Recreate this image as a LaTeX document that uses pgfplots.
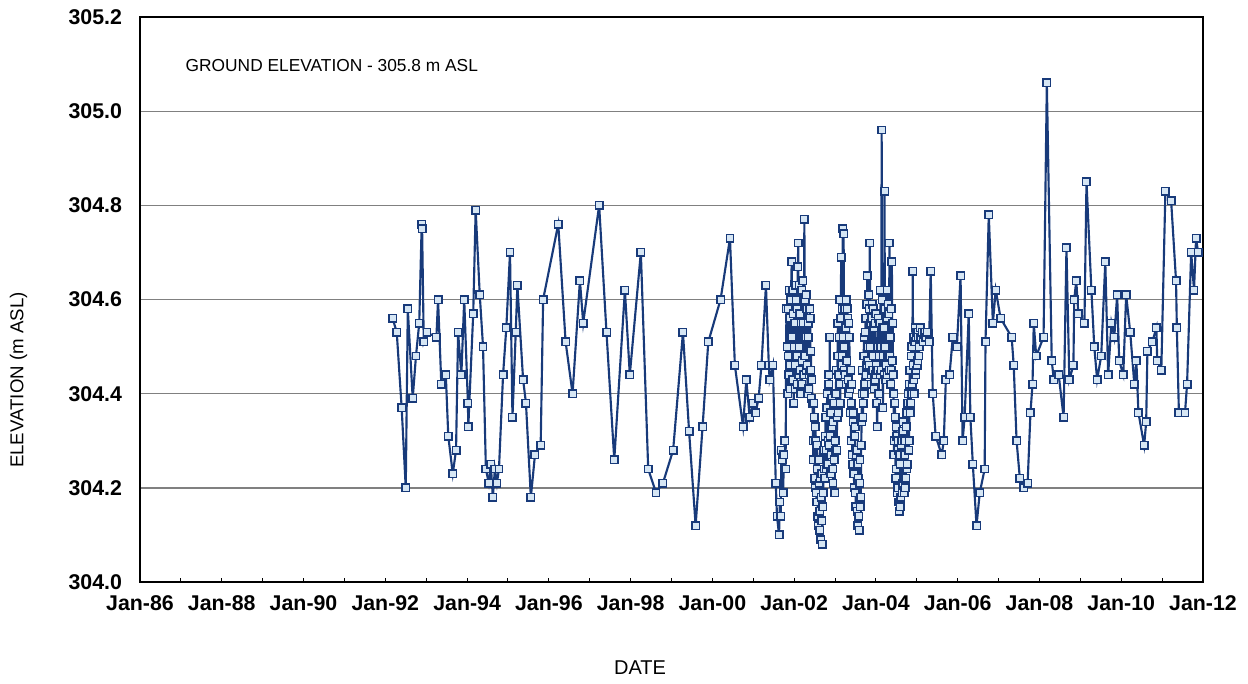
\documentclass[border=0pt]{standalone}
\usepackage{fontspec}
\setmainfont{Liberation Sans}
\usepackage{pgfplots}
\usepackage{pgfplotstable}
\pgfplotsset{compat=1.18}
\definecolor{navy}{HTML}{183A7A}
\definecolor{markfill}{HTML}{D6E6F4}
\definecolor{gridgray}{HTML}{808080}
\pgfplotstableread{
t v
1992.18 304.56
1992.28 304.53
1992.40 304.37
1992.50 304.20
1992.55 304.58
1992.67 304.39
1992.75 304.48
1992.83 304.55
1992.89 304.76
1992.90 304.75
1992.94 304.51
1993.02 304.53
1993.25 304.52
1993.29 304.60
1993.37 304.42
1993.48 304.44
1993.54 304.31
1993.65 304.23
1993.73 304.28
1993.78 304.53
1993.86 304.44
1993.93 304.60
1994.02 304.38
1994.03 304.33
1994.15 304.57
1994.21 304.79
1994.31 304.61
1994.39 304.50
1994.46 304.24
1994.53 304.21
1994.58 304.25
1994.63 304.18
1994.68 304.24
1994.73 304.21
1994.78 304.24
1994.88 304.44
1994.96 304.54
1995.05 304.70
1995.11 304.35
1995.19 304.53
1995.23 304.63
1995.37 304.43
1995.44 304.38
1995.56 304.18
1995.66 304.27
1995.80 304.29
1995.86 304.60
1996.23 304.76
1996.41 304.51
1996.58 304.40
1996.76 304.64
1996.84 304.55
1997.23 304.80
1997.41 304.53
1997.60 304.26
1997.86 304.62
1997.98 304.44
1998.25 304.70
1998.43 304.24
1998.62 304.19
1998.79 304.21
1999.04 304.28
1999.28 304.53
1999.43 304.32
1999.59 304.12
1999.76 304.33
1999.90 304.51
2000.20 304.60
2000.43 304.73
2000.55 304.46
2000.75 304.33
2000.83 304.43
2000.91 304.35
2000.99 304.38
2001.06 304.36
2001.13 304.39
2001.20 304.46
2001.31 304.63
2001.38 304.46
2001.40 304.43
2001.48 304.46
2001.55 304.21
2001.58 304.14
2001.63 304.10
2001.65 304.17
2001.67 304.14
2001.69 304.28
2001.71 304.26
2001.73 304.19
2001.75 304.27
2001.77 304.30
2001.79 304.24
2001.81 304.58
2001.83 304.50
2001.84 304.40
2001.85 304.58
2001.86 304.48
2001.87 304.44
2001.88 304.62
2001.89 304.56
2001.90 304.41
2001.91 304.46
2001.92 304.60
2001.94 304.68
2001.95 304.52
2001.96 304.62
2001.97 304.43
2001.98 304.57
2001.99 304.38
2002.00 304.50
2002.01 304.55
2002.02 304.41
2002.03 304.46
2002.04 304.63
2002.05 304.60
2002.06 304.48
2002.07 304.42
2002.08 304.58
2002.09 304.67
2002.10 304.72
2002.11 304.44
2002.12 304.50
2002.13 304.63
2002.14 304.57
2002.15 304.45
2002.16 304.40
2002.17 304.55
2002.18 304.62
2002.19 304.42
2002.20 304.47
2002.21 304.64
2002.22 304.55
2002.23 304.44
2002.25 304.77
2002.26 304.48
2002.27 304.60
2002.28 304.52
2002.29 304.45
2002.30 304.61
2002.31 304.58
2002.32 304.46
2002.33 304.40
2002.34 304.55
2002.35 304.52
2002.36 304.41
2002.37 304.44
2002.38 304.58
2002.39 304.56
2002.40 304.45
2002.41 304.49
2002.42 304.39
2002.43 304.43
2002.45 304.38
2002.46 304.30
2002.47 304.26
2002.48 304.38
2002.49 304.35
2002.50 304.22
2002.51 304.20
2002.52 304.33
2002.53 304.30
2002.54 304.19
2002.55 304.17
2002.56 304.29
2002.57 304.24
2002.58 304.14
2002.59 304.12
2002.60 304.26
2002.61 304.21
2002.62 304.11
2002.63 304.15
2002.64 304.22
2002.65 304.09
2002.66 304.18
2002.67 304.13
2002.68 304.23
2002.69 304.08
2002.70 304.16
2002.71 304.19
2002.72 304.28
2002.73 304.24
2002.75 304.22
2002.76 304.31
2002.77 304.35
2002.78 304.24
2002.79 304.28
2002.80 304.37
2002.81 304.40
2002.82 304.25
2002.83 304.30
2002.84 304.42
2002.85 304.44
2002.86 304.29
2002.87 304.52
2002.88 304.31
2002.89 304.36
2002.90 304.23
2002.91 304.27
2002.92 304.39
2002.93 304.33
2002.94 304.24
2002.95 304.21
2002.96 304.34
2002.97 304.38
2002.98 304.26
2002.99 304.19
2003.00 304.28
2003.01 304.30
2003.02 304.40
2003.03 304.45
2003.04 304.28
2003.05 304.35
2003.06 304.48
2003.07 304.55
2003.08 304.36
2003.09 304.44
2003.10 304.52
2003.11 304.60
2003.12 304.42
2003.13 304.38
2003.14 304.56
2003.15 304.69
2003.16 304.46
2003.17 304.58
2003.18 304.48
2003.19 304.75
2003.20 304.52
2003.21 304.74
2003.22 304.45
2003.23 304.50
2003.24 304.58
2003.25 304.44
2003.26 304.54
2003.27 304.60
2003.28 304.42
2003.29 304.47
2003.30 304.58
2003.31 304.56
2003.32 304.43
2003.33 304.40
2003.34 304.55
2003.35 304.52
2003.36 304.41
2003.37 304.36
2003.38 304.45
2003.39 304.30
2003.40 304.38
2003.41 304.42
2003.42 304.27
2003.43 304.25
2003.44 304.34
2003.45 304.36
2003.46 304.23
2003.47 304.20
2003.48 304.31
2003.49 304.33
2003.50 304.19
2003.51 304.16
2003.52 304.27
2003.53 304.28
2003.54 304.15
2003.55 304.12
2003.56 304.25
2003.57 304.22
2003.58 304.14
2003.59 304.11
2003.60 304.21
2003.61 304.26
2003.62 304.16
2003.63 304.18
2003.64 304.29
2003.65 304.34
2003.66 304.40
2003.67 304.45
2003.68 304.35
2003.69 304.38
2003.70 304.48
2003.71 304.52
2003.72 304.40
2003.73 304.42
2003.74 304.53
2003.75 304.56
2003.76 304.44
2003.77 304.46
2003.78 304.59
2003.79 304.65
2003.80 304.47
2003.81 304.50
2003.82 304.61
2003.83 304.58
2003.84 304.46
2003.85 304.72
2003.86 304.50
2003.87 304.55
2003.88 304.42
2003.89 304.44
2003.90 304.56
2003.91 304.59
2003.92 304.45
2003.93 304.48
2003.94 304.58
2003.95 304.54
2003.96 304.41
2003.97 304.43
2003.98 304.55
2003.99 304.57
2004.00 304.44
2004.01 304.46
2004.02 304.38
2004.03 304.33
2004.04 304.45
2004.05 304.50
2004.06 304.56
2004.07 304.40
2004.08 304.48
2004.09 304.55
2004.10 304.44
2004.11 304.62
2004.12 304.50
2004.13 304.45
2004.14 304.96
2004.15 304.54
2004.16 304.60
2004.17 304.37
2004.18 304.48
2004.19 304.54
2004.20 304.44
2004.21 304.83
2004.22 304.50
2004.23 304.58
2004.24 304.43
2004.25 304.46
2004.26 304.56
2004.27 304.62
2004.28 304.44
2004.29 304.48
2004.30 304.59
2004.31 304.57
2004.32 304.45
2004.33 304.72
2004.34 304.48
2004.35 304.52
2004.36 304.42
2004.37 304.45
2004.38 304.58
2004.39 304.68
2004.40 304.47
2004.41 304.55
2004.42 304.44
2004.43 304.40
2004.44 304.27
2004.45 304.30
2004.46 304.38
2004.47 304.35
2004.48 304.22
2004.49 304.24
2004.50 304.33
2004.51 304.31
2004.52 304.19
2004.53 304.20
2004.54 304.30
2004.55 304.28
2004.56 304.17
2004.57 304.15
2004.58 304.27
2004.59 304.25
2004.60 304.16
2004.61 304.18
2004.62 304.29
2004.63 304.30
2004.64 304.19
2004.65 304.21
2004.66 304.32
2004.67 304.34
2004.68 304.22
2004.69 304.19
2004.70 304.30
2004.71 304.27
2004.72 304.20
2004.73 304.22
2004.74 304.33
2004.75 304.36
2004.76 304.24
2004.77 304.25
2004.78 304.38
2004.79 304.40
2004.80 304.28
2004.81 304.30
2004.82 304.42
2004.83 304.45
2004.84 304.36
2004.85 304.38
2004.86 304.48
2004.87 304.50
2004.88 304.40
2004.89 304.42
2004.90 304.66
2004.91 304.46
2004.92 304.52
2004.93 304.43
2004.94 304.40
2004.95 304.51
2004.96 304.54
2004.97 304.44
2004.98 304.45
2004.99 304.52
2005.00 304.53
2005.01 304.46
2005.02 304.47
2005.03 304.53
2005.04 304.52
2005.05 304.48
2005.06 304.50
2005.08 304.54
2005.10 304.52
2005.13 304.53
2005.16 304.51
2005.19 304.53
2005.22 304.52
2005.26 304.53
2005.30 304.51
2005.34 304.66
2005.39 304.40
2005.46 304.31
2005.61 304.27
2005.66 304.30
2005.71 304.43
2005.80 304.44
2005.88 304.52
2005.98 304.50
2006.07 304.65
2006.12 304.30
2006.17 304.35
2006.27 304.57
2006.31 304.35
2006.37 304.25
2006.46 304.12
2006.54 304.19
2006.66 304.24
2006.68 304.51
2006.76 304.78
2006.86 304.55
2006.93 304.62
2007.05 304.56
2007.32 304.52
2007.37 304.46
2007.44 304.30
2007.52 304.22
2007.61 304.20
2007.71 304.21
2007.78 304.36
2007.83 304.42
2007.86 304.55
2007.92 304.48
2008.10 304.52
2008.18 305.06
2008.30 304.47
2008.35 304.43
2008.47 304.44
2008.59 304.35
2008.66 304.71
2008.73 304.43
2008.83 304.46
2008.85 304.60
2008.90 304.64
2008.95 304.57
2009.10 304.55
2009.15 304.85
2009.27 304.62
2009.34 304.50
2009.41 304.43
2009.51 304.48
2009.61 304.68
2009.68 304.44
2009.76 304.55
2009.83 304.52
2009.90 304.61
2009.95 304.47
2010.05 304.44
2010.12 304.61
2010.22 304.53
2010.32 304.42
2010.37 304.47
2010.42 304.36
2010.56 304.29
2010.61 304.34
2010.64 304.49
2010.76 304.51
2010.86 304.54
2010.88 304.47
2010.98 304.45
2011.08 304.83
2011.22 304.81
2011.34 304.64
2011.36 304.54
2011.41 304.36
2011.56 304.36
2011.61 304.42
2011.71 304.70
2011.78 304.62
2011.83 304.73
2011.88 304.70
}\elevdata
\begin{document}
\begin{tikzpicture}
\path[use as bounding box] (-105pt,-75.75pt) rectangle (831pt,436.5pt);
\begin{axis}[
  at={(0pt,0pt)}, anchor=south west,
  scale only axis,
  width=797.25pt, height=423.75pt,
  xmin=1986, xmax=2012,
  ymin=304, ymax=305.2,
  xtick={1986,1988,...,2012},
  xticklabels={Jan-86,Jan-88,Jan-90,Jan-92,Jan-94,Jan-96,Jan-98,Jan-00,Jan-02,Jan-04,Jan-06,Jan-08,Jan-10,Jan-12},
  minor xtick={1987,1989,...,2011},
  xtick pos=bottom,
  tick align=inside,
  major tick length=3pt, minor tick length=3pt,
  every tick/.style={black, line width=0.8pt},
  ytick={304,304.2,304.4,304.6,304.8,305,305.2},
  ytick style={draw=none},
  ymajorgrids,
  major grid style={gridgray, line width=1pt},
  axis line style={black, line width=1.5pt},
  /pgf/number format/fixed,
  /pgf/number format/fixed zerofill,
  /pgf/number format/precision=1,
  /pgf/number format/assume math mode=true,
  ticklabel style={font=\fontsize{16}{19}\selectfont\bfseries},
  xticklabel style={yshift=-7pt},
  yticklabel style={xshift=-10pt},
  xlabel={DATE},
  ylabel={ELEVATION (m ASL)},
  every axis x label/.style={at={(axis description cs:0.4704,-0.1522)}, anchor=center, font=\fontsize{15}{18}\selectfont},
  every axis y label/.style={at={(axis description cs:-0.1143,0.3575)}, anchor=center, rotate=90, font=\fontsize{14}{17}\selectfont},
  clip=false,
]
\addplot[navy, line width=1.6pt, mark=square*, mark size=2.8pt,
  mark options={solid, draw=navy, fill=markfill, line width=1.1pt}]
  table[x=t, y=v] {\elevdata};
\node[anchor=west, font=\fontsize{13}{16}\selectfont] at (axis description cs:0.0386,0.9133) {GROUND ELEVATION - 305.8 m ASL};
\end{axis}
\end{tikzpicture}
\end{document}
